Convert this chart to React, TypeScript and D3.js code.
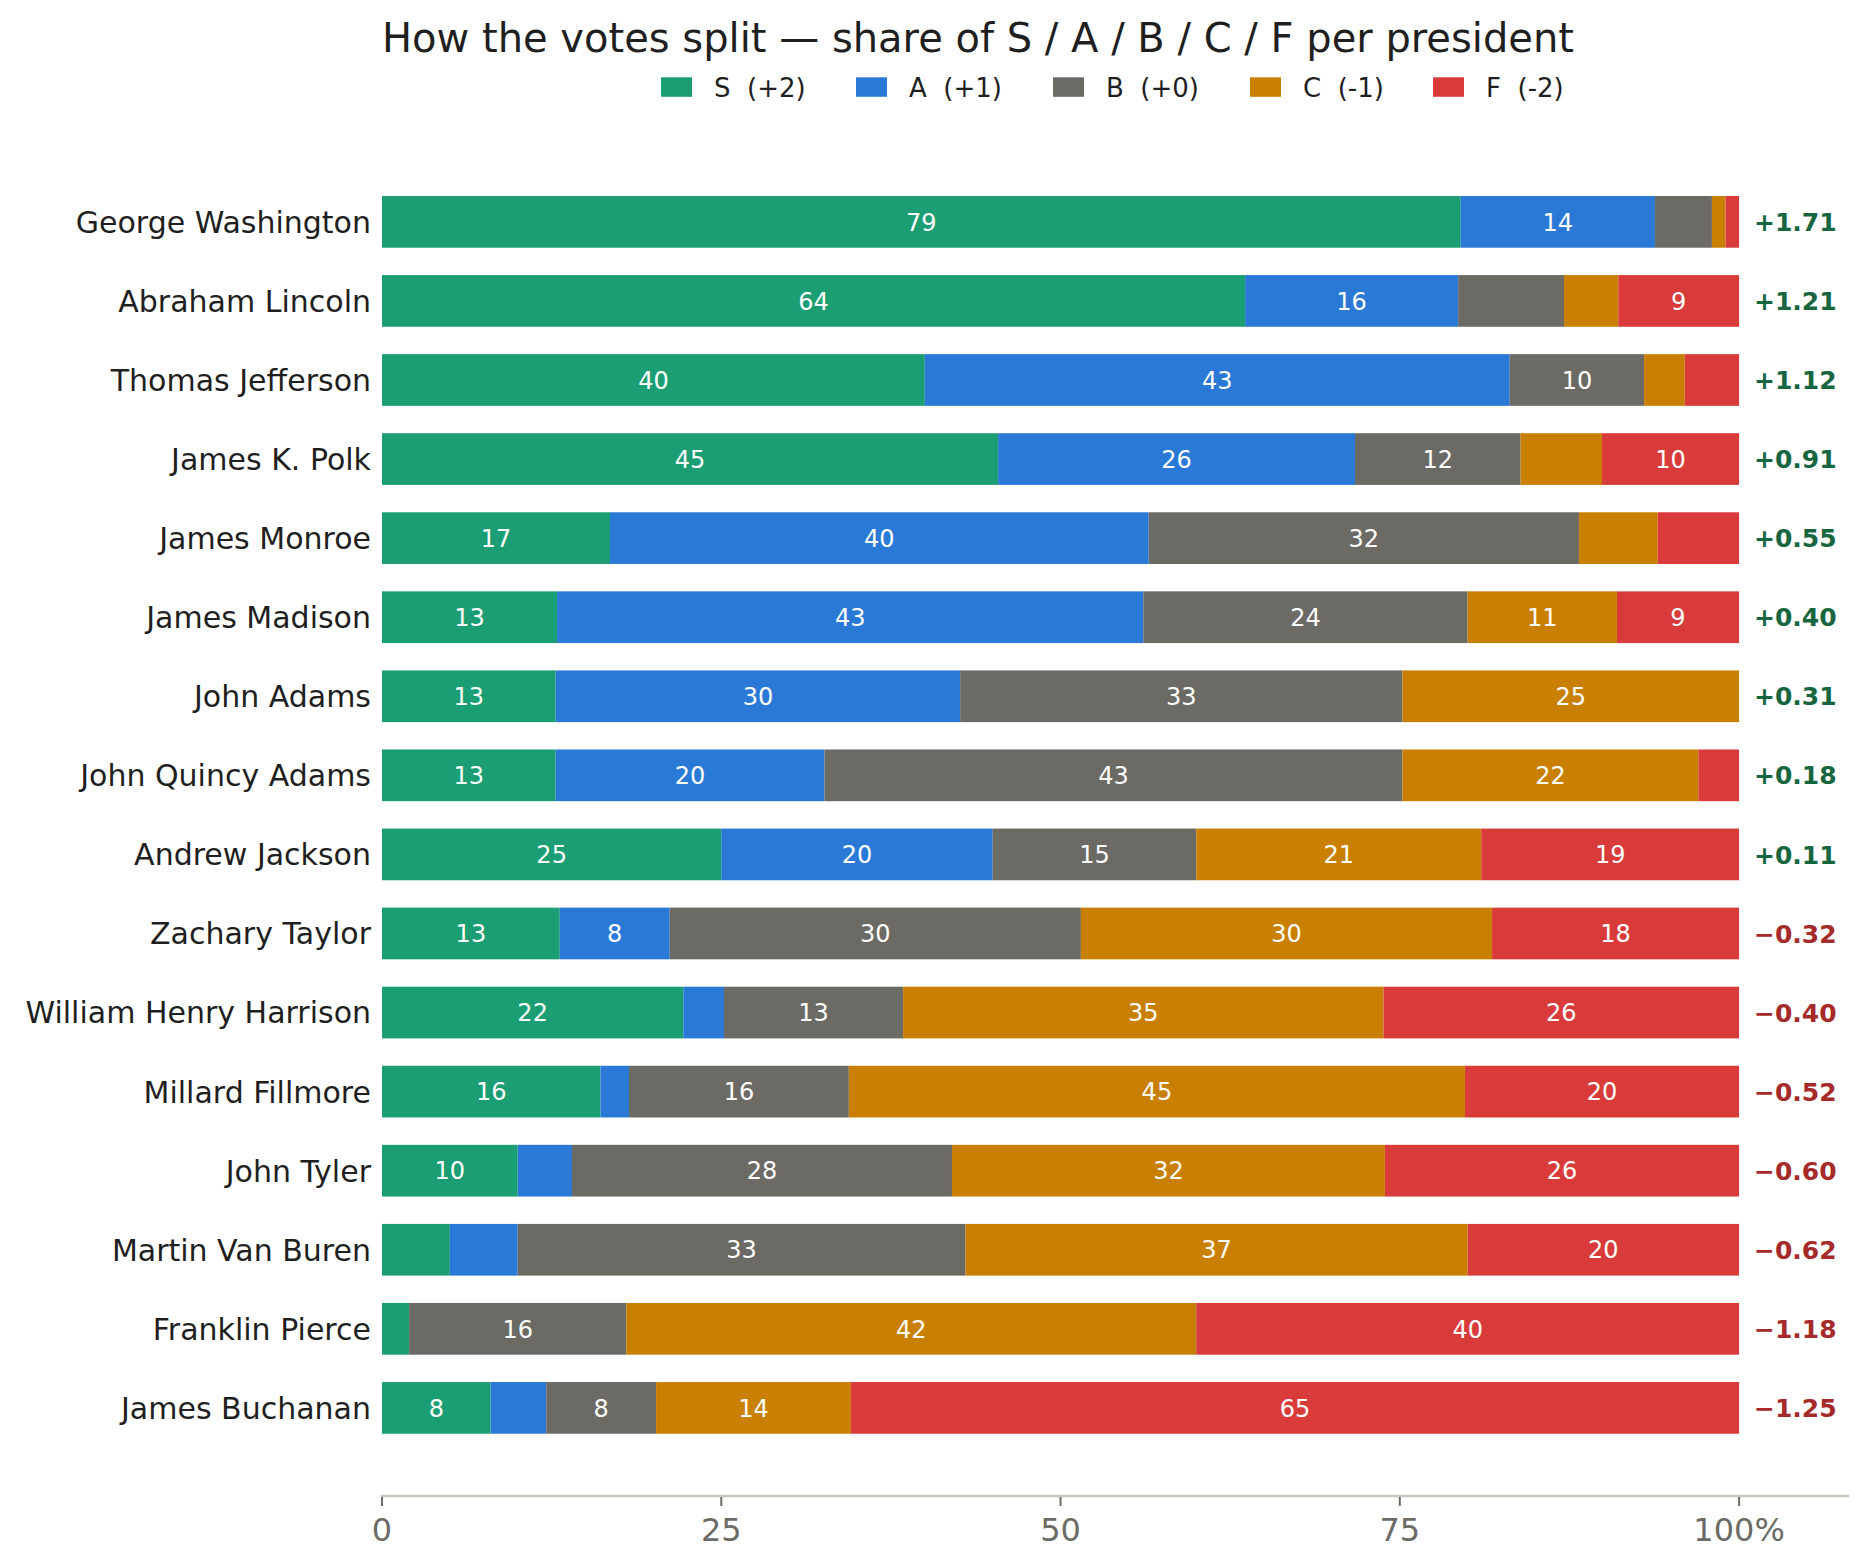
import React from "react";
import * as d3 from "d3";

const presidents = [
  "George Washington",
  "Abraham Lincoln",
  "Thomas Jefferson",
  "James K. Polk",
  "James Monroe",
  "James Madison",
  "John Adams",
  "John Quincy Adams",
  "Andrew Jackson",
  "Zachary Taylor",
  "William Henry Harrison",
  "Millard Fillmore",
  "John Tyler",
  "Martin Van Buren",
  "Franklin Pierce",
  "James Buchanan",
];

const gradeKeys = ["S", "A", "B", "C", "F"];
const gradeLabels = ["S  (+2)", "A  (+1)", "B  (+0)", "C  (-1)", "F  (-2)"];
const gradeColors = ["#1b9e73", "#2b79d6", "#6c6a64", "#c97f00", "#d93b3b"];

const shareS = [79.49, 63.6, 40.0, 45.4, 16.8, 12.9, 12.8, 12.8, 25, 13.1, 22.2, 16.1, 10, 5, 2, 8.0];
const shareA = [14.31, 15.7, 43.1, 26.3, 39.7, 43.2, 29.8, 19.8, 20, 8.1, 3.0, 2.1, 4, 5, 0, 4.1];
const shareB = [4.2, 7.8, 9.9, 12.2, 31.7, 23.9, 32.6, 42.6, 15, 30.3, 13.2, 16.2, 28, 33, 16, 8.1];
const shareC = [1.0, 4.0, 3.0, 6.0, 5.8, 11.0, 24.8, 21.8, 21, 30.3, 35.4, 45.4, 31.9, 37, 42, 14.35];
const shareF = [1.0, 8.9, 4.0, 10.1, 6.0, 9.0, 0, 3.0, 19, 18.2, 26.2, 20.2, 26.1, 20, 40, 65.45];

const scores = [1.71, 1.21, 1.12, 0.91, 0.55, 0.4, 0.31, 0.18, 0.11, -0.32, -0.4, -0.52, -0.6, -0.62, -1.18, -1.25];

const xTicks = [0, 25, 50, 75, 100];

const W = 1868;
const H = 1568;
const FONT = "'DejaVu Sans', sans-serif";

export default function App() {
  const x = d3.scaleLinear().domain([0, 108.1]).range([382, 1849]);
  const y = d3
    .scalePoint<string>()
    .domain(presidents)
    .range([221.85, 221.85 + 15 * 79.07]);
  const barH = 51.7;

  const rows = presidents.map((name, i) => ({
    name,
    S: shareS[i],
    A: shareA[i],
    B: shareB[i],
    C: shareC[i],
    F: shareF[i],
  }));
  const stacked = d3.stack<any>().keys(gradeKeys)(rows);

  const legendSquareX = [661, 856, 1053, 1250, 1433];
  const axisY = 1496;

  const fmtScore = (v: number) =>
    (v >= 0 ? "+" : "\u2212") + Math.abs(v).toFixed(2);

  return (
    <svg
      width={W}
      height={H}
      style={{ position: "absolute", left: 0, top: 0, background: "#fff" }}
      fontFamily={FONT}
    >
      <rect x={0} y={0} width={W} height={H} fill="#fff" />
      <text x={382} y={51.7} fontSize={40} fill="#1f1f1f">
        How the votes split — share of S / A / B / C / F per president
      </text>

      {gradeLabels.map((lab, i) => (
        <g key={lab}>
          <rect x={legendSquareX[i]} y={77.3} width={31} height={19.5} fill={gradeColors[i]} />
          <text
            x={legendSquareX[i] + 53}
            y={96.5}
            fontSize={26}
            fill="#1f1f1f"
            style={{ whiteSpace: "pre" }}
          >
            {lab}
          </text>
        </g>
      ))}

      {stacked.map((layer, k) => (
        <g key={gradeKeys[k]}>
          {layer.map((seg, i) => {
            const x0 = x(seg[0]);
            const x1 = x(seg[1]);
            const cy = y(presidents[i]) as number;
            const v = seg[1] - seg[0];
            if (v <= 0) return null;
            return (
              <g key={i}>
                <rect x={x0} y={cy - barH / 2} width={x1 - x0} height={barH} fill={gradeColors[k]} />
                {v >= 8 && (
                  <text
                    x={(x0 + x1) / 2}
                    y={cy + 8.7}
                    fontSize={24}
                    fill="#ffffff"
                    textAnchor="middle"
                  >
                    {Math.round(v)}
                  </text>
                )}
              </g>
            );
          })}
        </g>
      ))}

      {presidents.map((name) => (
        <text
          key={name}
          x={371}
          y={(y(name) as number) + 10.9}
          fontSize={30}
          fill="#1f1f1f"
          textAnchor="end"
        >
          {name}
        </text>
      ))}

      {presidents.map((name, i) => (
        <text
          key={"s" + name}
          x={1754}
          y={(y(name) as number) + 9.1}
          fontSize={25}
          fontWeight="bold"
          fill={scores[i] >= 0 ? "#17663f" : "#a52a2a"}
        >
          {fmtScore(scores[i])}
        </text>
      ))}

      <line x1={x(0) - 1} x2={x(108.1)} y1={axisY} y2={axisY} stroke="#c8c5bd" strokeWidth={2.5} />
      {xTicks.map((t) => (
        <g key={t}>
          <line x1={x(t)} x2={x(t)} y1={axisY + 1} y2={axisY + 10} stroke="#6b6b66" strokeWidth={2} />
          <text
            x={x(t)}
            y={1540.5}
            fontSize={32}
            fill="#6b6b66"
            textAnchor="middle"
          >
            {t === 100 ? "100%" : String(t)}
          </text>
        </g>
      ))}
    </svg>
  );
}
